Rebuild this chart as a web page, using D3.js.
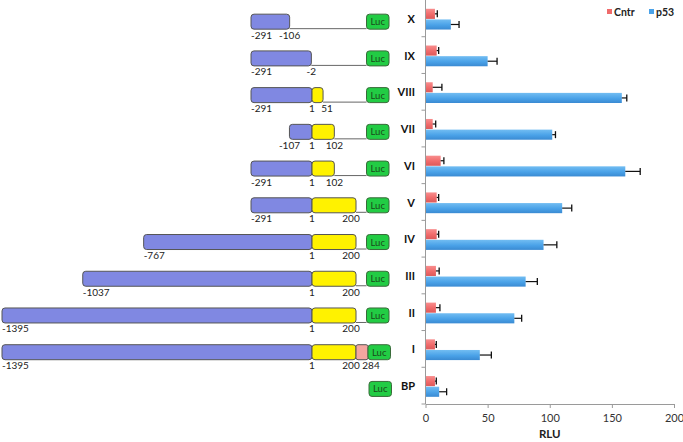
<!DOCTYPE html>
<html>
<head>
<meta charset="utf-8">
<script src="https://cdn.jsdelivr.net/npm/d3@7"></script>
<style>
  html, body { margin: 0; padding: 0; background: #fff; }
  svg { display: block; font-family: "Lato", "Open Sans", sans-serif; }
</style>
</head>
<body>
<svg id="chart" width="683" height="442"></svg>
<script>
// ---------------- DATA ----------------
const categories = ["X", "IX", "VIII", "VII", "VI", "V", "IV", "III", "II", "I", "BP"];
const seriesNames = ["Cntr", "p53"];
const cntrValues = [7.6, 9, 5.8, 5.8, 12.2, 9, 9, 8.4, 8.4, 7.6, 7.6];
const cntrErrors = [1.9, 1.6, 7.4, 2.4, 2.6, 1.6, 1.6, 2.6, 3.2, 1.1, 1.1];
const p53Values = [20.4, 50, 158, 102, 160.8, 110, 95, 80.6, 71.5, 43.7, 11];
const p53Errors = [6.6, 7.6, 4, 2.6, 12, 7.7, 10.7, 9.4, 5.9, 9.3, 6];
const xTicks = [0, 50, 100, 150, 200];
const xLabel = "RLU";

// construct map (positions in bp); null = region absent
const promoterStart = [-291, -291, -291, -107, -291, -291, -767, -1037, -1395, -1395, null];
const promoterEnd   = [-106, -2, 1, 1, 1, 1, 1, 1, 1, 1, null];
const exonEnd       = [null, null, 51, 102, 102, 200, 200, 200, 200, 200, null];
const intronEnd     = [null, null, null, null, null, null, null, null, null, 284, null];
const reporterLabel = "Luc";

// ---------------- LAYOUT ----------------
const svg = d3.select("#chart");
const plotTop = 0, plotBottom = 404;

const x = d3.scaleLinear().domain([0, 200]).range([425.5, 674]);
const y = d3.scaleBand().domain(categories).range([plotTop, plotBottom]);
const ySub = d3.scaleBand().domain(seriesNames).range([0, y.bandwidth()])
  .paddingInner(0.05).paddingOuter(0.75).align(0.55);

// genomic map scale (piecewise: promoter / exon / intron)
const g = d3.scaleLinear().domain([-1395, -291, 1, 200, 284]).range([2, 251, 312, 356, 368]);

const defs = svg.append("defs");
function grad(id, c1, c2, c3) {
  const lg = defs.append("linearGradient").attr("id", id).attr("x1", 0).attr("x2", 0).attr("y1", 0).attr("y2", 1);
  lg.append("stop").attr("offset", "0%").attr("stop-color", c1);
  lg.append("stop").attr("offset", "55%").attr("stop-color", c2);
  lg.append("stop").attr("offset", "100%").attr("stop-color", c3);
}
grad("gCntr", "#f88e8e", "#f06a6a", "#dc5a5a");
grad("gP53", "#72bdf2", "#4aa2e8", "#3a8ad2");
const fills = { Cntr: "url(#gCntr)", p53: "url(#gP53)" };
const legendColors = { Cntr: "#ef6b6b", p53: "#4aa2e8" };

// ---------------- AXES ----------------
const axisColor = "#9a9a9a";
svg.append("line").attr("x1", x(0)).attr("x2", x(0)).attr("y1", plotTop).attr("y2", plotBottom)
  .attr("stroke", axisColor).attr("stroke-width", 1);
svg.selectAll(".ctick").data(categories).enter().append("line")
  .attr("x1", x(0) - 4).attr("x2", x(0))
  .attr("y1", d => y(d) + y.bandwidth()).attr("y2", d => y(d) + y.bandwidth())
  .attr("stroke", axisColor);

const xAxis = d3.axisBottom(x).tickValues(xTicks).tickSize(4).tickSizeOuter(0).tickPadding(6);
const ax = svg.append("g").attr("transform", `translate(0,${plotBottom})`).call(xAxis);
ax.select(".domain").attr("stroke", axisColor);
ax.selectAll(".tick line").attr("stroke", axisColor);
ax.selectAll(".tick text").attr("font-size", 11).attr("fill", "#333").attr("font-family", "Lato, sans-serif");

svg.append("text").attr("x", (x(0) + x(200)) / 2).attr("y", 438)
  .attr("text-anchor", "middle").attr("font-size", 11.5).attr("font-weight", "bold")
  .attr("fill", "#222").text(xLabel);

// ---------------- BARS ----------------
const rows = categories.map((c, i) => ({
  cat: c,
  series: [
    { name: "Cntr", v: cntrValues[i], e: cntrErrors[i] },
    { name: "p53", v: p53Values[i], e: p53Errors[i] }
  ]
}));

const rowG = svg.selectAll(".row").data(rows).enter().append("g")
  .attr("transform", d => `translate(0,${y(d.cat)})`);

rowG.selectAll("rect.bar").data(d => d.series).enter().append("rect")
  .attr("class", "bar")
  .attr("x", x(0) + 0.5)
  .attr("y", d => ySub(d.name))
  .attr("width", d => x(d.v) - x(0) - 0.5)
  .attr("height", ySub.bandwidth())
  .attr("fill", d => fills[d.name]);

rowG.selectAll("line.err").data(d => d.series).enter().append("line")
  .attr("x1", d => x(d.v)).attr("x2", d => x(d.v + d.e))
  .attr("y1", d => ySub(d.name) + ySub.bandwidth() / 2)
  .attr("y2", d => ySub(d.name) + ySub.bandwidth() / 2)
  .attr("stroke", "#111").attr("stroke-width", 1.2);
rowG.selectAll("line.cap").data(d => d.series).enter().append("line")
  .attr("x1", d => x(d.v + d.e)).attr("x2", d => x(d.v + d.e))
  .attr("y1", d => ySub(d.name) + ySub.bandwidth() / 2 - 3.5)
  .attr("y2", d => ySub(d.name) + ySub.bandwidth() / 2 + 3.5)
  .attr("stroke", "#111").attr("stroke-width", 1.3);

svg.selectAll(".catlab").data(categories).enter().append("text")
  .attr("x", 415).attr("y", d => y(d) + y.bandwidth() / 2 + 4.5)
  .attr("text-anchor", "end").attr("font-size", 11).attr("font-weight", "bold")
  .attr("fill", "#111").text(d => d);

// ---------------- LEGEND ----------------
const leg = svg.append("g");
const legX = { Cntr: 607, p53: 649 };
seriesNames.forEach(s => {
  leg.append("rect").attr("x", legX[s]).attr("y", 9).attr("width", 5).attr("height", 5).attr("fill", legendColors[s]);
  leg.append("text").attr("x", legX[s] + 7).attr("y", 16).attr("font-size", 10.5).attr("font-weight", "bold")
    .attr("fill", "#222").text(s);
});

// ---------------- CONSTRUCT MAPS ----------------
const boxH = 15;
const lucX = 366.5, lucW = 22.5;
const stroke = "#555";

categories.forEach((c, i) => {
  const yc = y(c) + y.bandwidth() / 2;
  const top = yc - 4.2;
  const bottom = top + boxH;
  const gg = svg.append("g");
  const labels = [];
  let lastEnd = null;

  if (promoterStart[i] !== null) {
    const x0 = g(promoterStart[i]), x1 = g(promoterEnd[i]);
    gg.append("rect").attr("x", x0).attr("y", top).attr("width", x1 - x0).attr("height", boxH)
      .attr("rx", 3).attr("fill", "#8088e2").attr("stroke", stroke).attr("stroke-width", 1);
    labels.push({ v: promoterStart[i], anchor: (x1 - x0) > 30 ? "start" : "middle" });
    labels.push({ v: promoterEnd[i], anchor: "middle" });
    lastEnd = x1;
  }
  if (exonEnd[i] !== null) {
    const x0 = g(1), x1 = g(exonEnd[i]);
    gg.append("rect").attr("x", x0).attr("y", top).attr("width", x1 - x0).attr("height", boxH)
      .attr("rx", 3).attr("fill", "#fff200").attr("stroke", stroke).attr("stroke-width", 1);
    labels.push({ v: exonEnd[i], anchor: "middle", dx: exonEnd[i] >= 200 ? -5 : (exonEnd[i] < 60 ? 4 : 0) });
    lastEnd = x1;
  }
  if (intronEnd[i] !== null) {
    const x0 = g(exonEnd[i]), x1 = g(intronEnd[i]);
    gg.append("rect").attr("x", x0).attr("y", top).attr("width", x1 - x0).attr("height", boxH)
      .attr("rx", 2).attr("fill", "#f4a6a0").attr("stroke", stroke).attr("stroke-width", 1);
    labels.push({ v: intronEnd[i], anchor: "middle", dx: 3 });
    lastEnd = x1;
  }
  const lx = lastEnd !== null ? Math.max(lucX, lastEnd) : lucX + 2.5;
  if (lastEnd !== null && lastEnd < lx) {
    gg.append("line").attr("x1", lastEnd).attr("x2", lx).attr("y1", bottom - 0.5).attr("y2", bottom - 0.5)
      .attr("stroke", "#666").attr("stroke-width", 1);
  }
  gg.append("rect").attr("x", lx).attr("y", top).attr("width", lucW).attr("height", boxH)
    .attr("rx", 3).attr("fill", "#22cc44").attr("stroke", "#3a6a3a").attr("stroke-width", 1);
  gg.append("text").attr("x", lx + lucW / 2).attr("y", top + 11).attr("text-anchor", "middle")
    .attr("font-size", 9.5).attr("fill", "#1a4a1a").text(reporterLabel);

  gg.selectAll("text.pos").data(labels).enter().append("text")
    .attr("x", d => g(d.v) + (d.dx || 0)).attr("y", bottom + 9.5)
    .attr("text-anchor", d => d.anchor).attr("font-size", 10).attr("fill", "#222")
    .text(d => d.v);
});
</script>
</body>
</html>
